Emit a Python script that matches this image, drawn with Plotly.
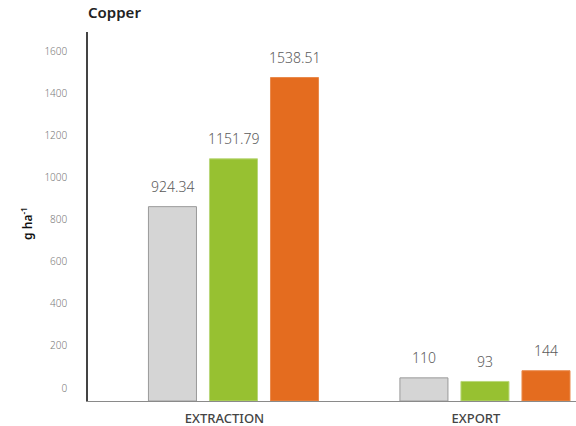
import plotly.graph_objects as go

# Copper extraction and export, g ha^-1
categories = ["EXTRACTION", "EXPORT"]
series_names = ["Series A", "Series B", "Series C"]
series_values = [
    [924.34, 110],
    [1151.79, 93],
    [1538.51, 144],
]
series_labels = [
    ["924.34", "110"],
    ["1151.79", "93"],
    ["1538.51", "144"],
]
y_ticks = [0, 200, 400, 600, 800, 1000, 1200, 1400, 1600]

colors = ["#D5D5D5", "#97C131", "#E46C1F"]
edge_colors = ["#9A9A9A", "#B9D77A", "#E98A4C"]

fig = go.Figure()
for name, vals, col, edge in zip(series_names, series_values, colors, edge_colors):
    fig.add_trace(go.Bar(
        name=name, x=categories, y=vals,
        marker=dict(color=col, line=dict(color=edge, width=1)),
        showlegend=False,
    ))

# value labels above each bar, offset to each bar's slot in the group
slot_px = 61
for i, (vals, labels) in enumerate(zip(series_values, series_labels)):
    for cat, v, lab in zip(categories, vals, labels):
        fig.add_annotation(
            x=cat, y=v, text=lab, showarrow=False,
            xshift=(i - 1) * slot_px, yshift=20, yanchor="middle",
            font=dict(family="Noto Sans", size=14, color="#5A5A5A", weight=300),
        )

fig.add_annotation(
    xref="paper", yref="paper", x=-0.004, y=1.054, text="Copper",
    showarrow=False, xanchor="left", yanchor="middle",
    font=dict(family="Noto Sans", size=15, color="#222222", weight=600),
)
fig.add_annotation(
    xref="paper", yref="paper", x=-0.125, y=0.48, text="g ha<sup>-1</sup>",
    showarrow=False, textangle=-90, xanchor="center", yanchor="middle",
    font=dict(family="Noto Sans", size=12, color="#111111", weight=600),
)

fig.update_layout(
    width=576, height=426,
    margin=dict(l=88, r=0, t=32, b=25),
    paper_bgcolor="white", plot_bgcolor="white",
    barmode="group", bargap=0.272, bargroupgap=0.213,
    xaxis=dict(
        range=[-0.5785, 1.362], showgrid=False,
        showline=True, linecolor="#8A8A8A", linewidth=1,
        ticks="", ticklabelshift=-9, ticklabelstandoff=5,
        tickfont=dict(family="Noto Sans", size=13, color="#444444", weight=500),
    ),
    yaxis=dict(
        range=[0, 1755], showgrid=False, zeroline=False,
        showline=True, linecolor="#444444", linewidth=1.5,
        tickvals=y_ticks, ticks="", ticklabelstandoff=17, ticklabelshift=-13,
        tickfont=dict(family="Noto Sans", size=10, color="#7A7A7A", weight=300),
    ),
)

fig.write_html("out.html")
